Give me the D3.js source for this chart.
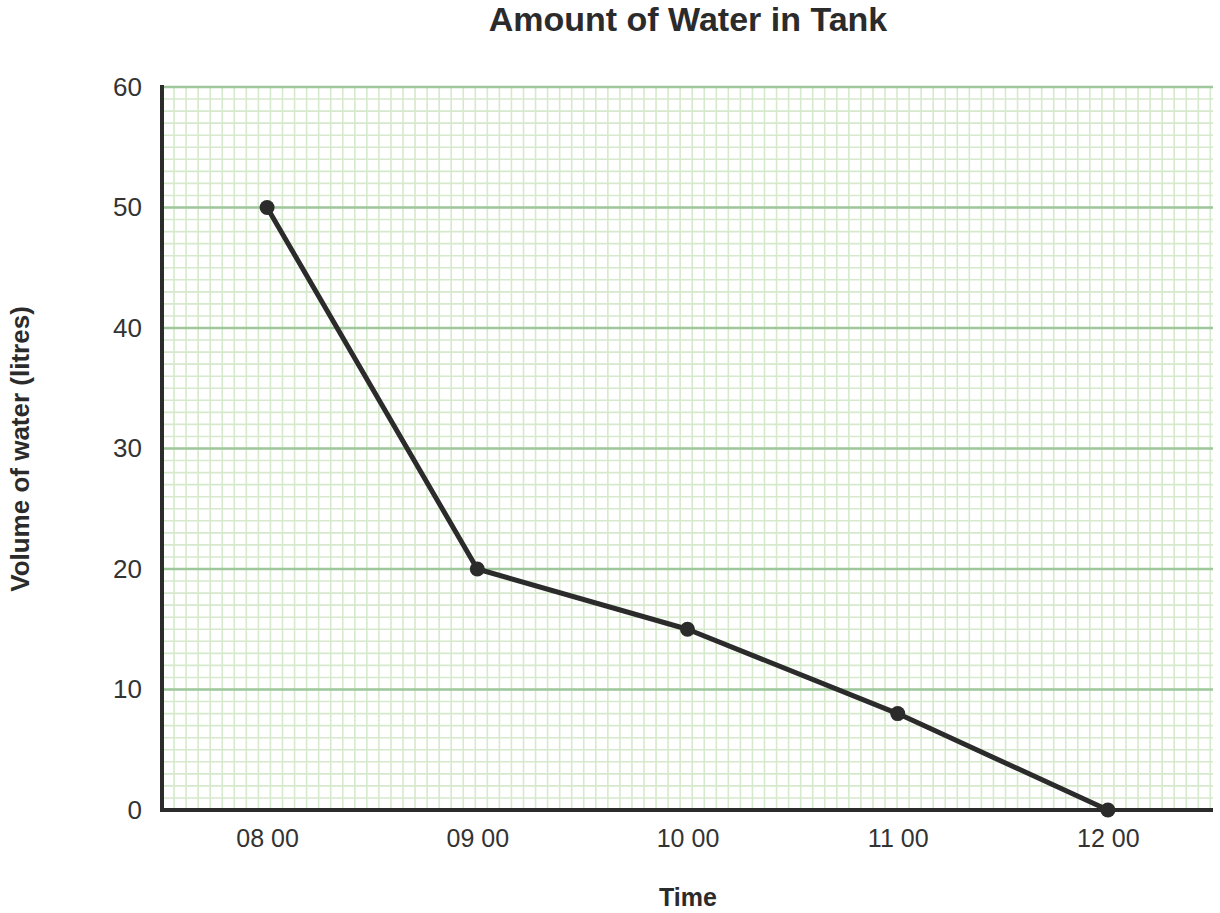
<!DOCTYPE html>
<html><head><meta charset="utf-8">
<script src="https://cdn.jsdelivr.net/npm/d3@7"></script>
<style>body{margin:0;background:#fff;}svg{display:block;font-family:"Liberation Sans",Arial,sans-serif;}</style>
</head><body>
<svg id="c" width="1220" height="913"></svg>
<script>
const categories = ["08 00","09 00","10 00","11 00","12 00"];
const values = [50, 20, 15, 8, 0];
const yTicks = [0,10,20,30,40,50,60];
const title = "Amount of Water in Tank";
const xLabel = "Time";
const yLabel = "Volume of water (litres)";

const svg = d3.select("#c");
const L = 162, R = 1213, T = 87, B = 810;
const x = d3.scalePoint().domain(categories).range([L, R]).padding(0.5);
const y = d3.scaleLinear().domain([0, 60]).range([B, T]);
const unit = y(0) - y(1);

const g = svg.append("g");
// minor horizontal
g.selectAll("line.mh").data(d3.range(1, 60)).join("line")
  .attr("x1", L).attr("x2", R).attr("y1", d => y(d)).attr("y2", d => y(d))
  .attr("stroke", "#d6e9cc").attr("stroke-width", 1.6);
// minor vertical
g.selectAll("line.mv").data(d3.range(1, Math.floor((R - L) / unit) + 1)).join("line")
  .attr("x1", d => L + d * unit).attr("x2", d => L + d * unit).attr("y1", T).attr("y2", B)
  .attr("stroke", "#d6e9cc").attr("stroke-width", 1.6);
// major horizontal
g.selectAll("line.MH").data(yTicks.filter(d => d > 0)).join("line")
  .attr("x1", L).attr("x2", R).attr("y1", d => y(d)).attr("y2", d => y(d))
  .attr("stroke", "#9ec79b").attr("stroke-width", 2.5);

// axes
const yAxis = d3.axisLeft(y).tickValues(yTicks).tickSize(0).tickPadding(20);
const ya = svg.append("g").attr("transform", `translate(${L},0)`).call(yAxis);
ya.select(".domain").remove();
ya.selectAll("text").attr("font-size", 26).attr("fill", "#333").attr("font-family", "Liberation Sans, Arial, sans-serif");
const xAxis = d3.axisBottom(x).tickSize(0).tickPadding(19);
const xa = svg.append("g").attr("transform", `translate(0,${B})`).call(xAxis);
xa.select(".domain").remove();
xa.selectAll("text").attr("font-size", 25).attr("fill", "#333").attr("font-family", "Liberation Sans, Arial, sans-serif");

svg.append("line").attr("x1", L).attr("x2", L).attr("y1", T - 2).attr("y2", B + 2)
  .attr("stroke", "#2b2b2b").attr("stroke-width", 4);
svg.append("line").attr("x1", L - 2).attr("x2", R).attr("y1", B).attr("y2", B)
  .attr("stroke", "#2b2b2b").attr("stroke-width", 4);

// data line
const line = d3.line().x((d, i) => x(categories[i])).y(d => y(d));
svg.append("path").datum(values).attr("d", line).attr("fill", "none")
  .attr("stroke", "#2b2b2b").attr("stroke-width", 5).attr("stroke-linejoin", "round");
svg.selectAll("circle.pt").data(values).join("circle")
  .attr("cx", (d, i) => x(categories[i])).attr("cy", d => y(d)).attr("r", 7.5)
  .attr("fill", "#2b2b2b");

svg.append("text").attr("x", 688).attr("y", 31).attr("text-anchor", "middle")
  .attr("font-size", 34).attr("font-weight", "bold").attr("fill", "#2b2b2b").text(title);
svg.append("text").attr("x", 688).attr("y", 906).attr("text-anchor", "middle")
  .attr("font-size", 25).attr("font-weight", "bold").attr("fill", "#2b2b2b").text(xLabel);
svg.append("text").attr("transform", "translate(29,449) rotate(-90)").attr("text-anchor", "middle")
  .attr("font-size", 26).attr("font-weight", "bold").attr("fill", "#2b2b2b").text(yLabel);
</script>
</body></html>
